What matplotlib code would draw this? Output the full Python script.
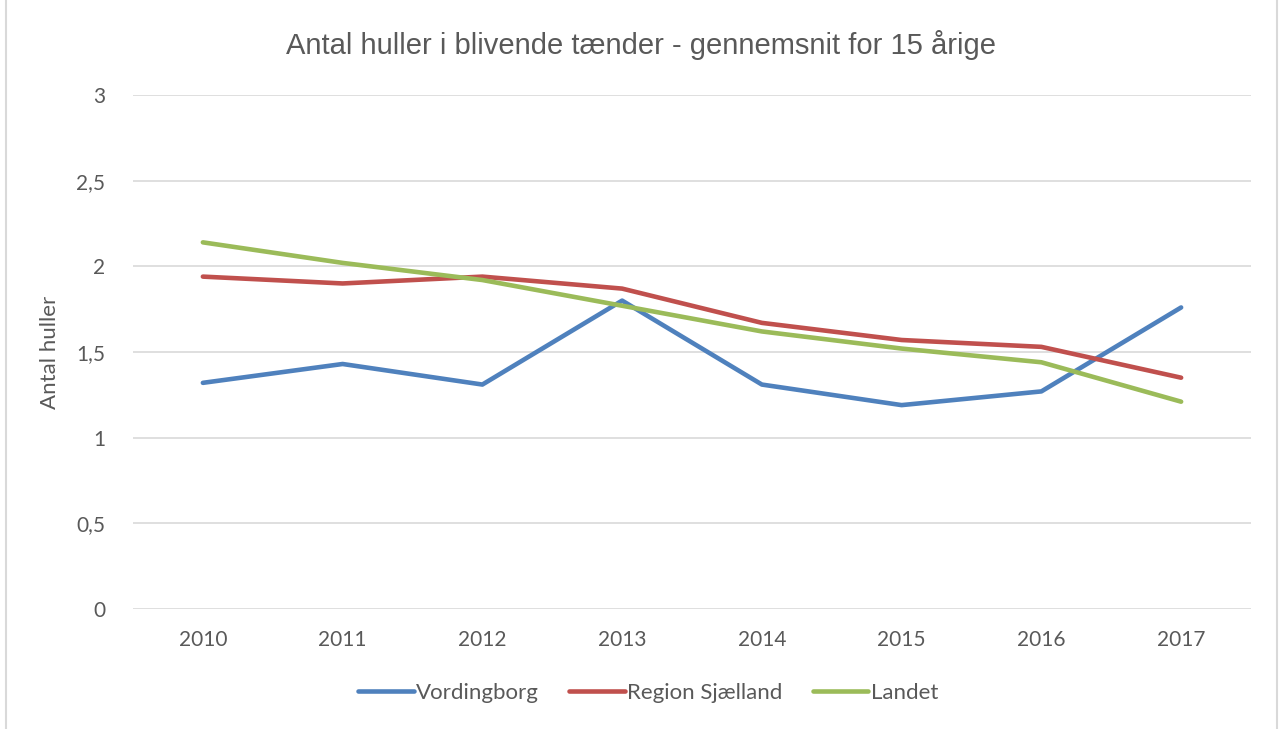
import numpy as np
import matplotlib
matplotlib.use('Agg')
from matplotlib import pyplot as plt
from matplotlib.lines import Line2D

years = ['2010', '2011', '2012', '2013', '2014', '2015', '2016', '2017']
vordingborg = [1.32, 1.43, 1.31, 1.80, 1.31, 1.19, 1.27, 1.76]
region = [1.94, 1.90, 1.94, 1.87, 1.67, 1.57, 1.53, 1.35]
landet = [2.14, 2.02, 1.92, 1.77, 1.62, 1.52, 1.44, 1.21]
yticks = [0, 0.5, 1, 1.5, 2, 2.5, 3]
ytick_labels = ['0', '0,5', '1', '1,5', '2', '2,5', '3']

txt = '#595959'
grid = '#D9D9D9'
plt.rcParams['font.family'] = ['Lato', 'DejaVu Sans']

fig = plt.figure(figsize=(12.81, 7.29), dpi=100)
ax = fig.add_axes([133/1281, 1-609/729, (1251-133)/1281, (609-95)/729])

x = np.arange(len(years))
ax.plot(x, vordingborg, color='#4F81BD', lw=3.3, solid_capstyle='round', label='Vordingborg', zorder=3)
ax.plot(x, region, color='#C0504D', lw=3.3, solid_capstyle='round', label='Region Sjælland', zorder=3)
ax.plot(x, landet, color='#9BBB59', lw=3.3, solid_capstyle='round', label='Landet', zorder=3)

ax.set_xlim(-0.5, len(years) - 0.5)
ax.set_ylim(0, 3)
ax.set_xticks(x)
ax.set_xticklabels(years)
ax.set_yticks(yticks)
ax.set_yticklabels(ytick_labels)
ax.tick_params(length=0, labelsize=15, colors=txt)
ax.tick_params(axis='x', pad=15)
ax.tick_params(axis='y', pad=20)
for s in ax.spines.values():
    s.set_visible(False)
ax.grid(axis='y', color=grid, lw=1.2)
ax.set_axisbelow(True)

ax.set_ylabel('Antal huller', fontsize=16, color=txt, labelpad=12)
fig.text(0.5, 1-45/729, 'Antal huller i blivende tænder - gennemsnit for 15 årige',
         ha='center', va='center', fontsize=21, color=txt, family='Liberation Sans')

fig.legend(loc='center', bbox_to_anchor=(0.506, 1-693/729), ncol=3, frameon=False,
           fontsize=16, labelcolor=txt, handlelength=2.5, handletextpad=0.12,
           columnspacing=1.35)

# chart border
fig.add_artist(Line2D([6/1281, 6/1281], [0, 1], color=grid, lw=1.5, transform=fig.transFigure))
fig.add_artist(Line2D([1277/1281, 1277/1281], [0, 1], color=grid, lw=1.5, transform=fig.transFigure))

fig.savefig('out.png', dpi=100)
